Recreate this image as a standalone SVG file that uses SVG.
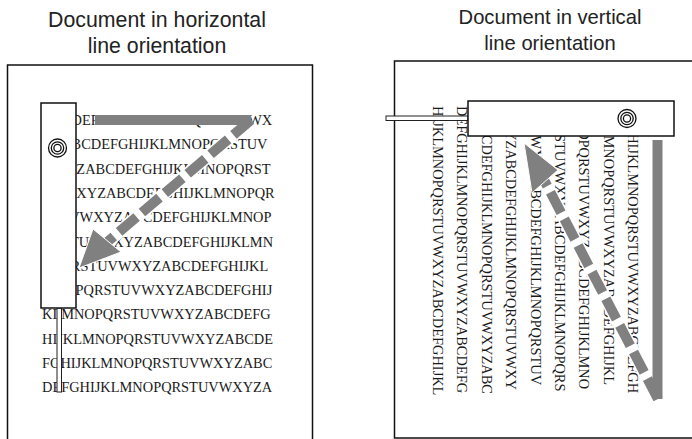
<svg xmlns="http://www.w3.org/2000/svg" width="692" height="439" viewBox="0 0 692 439">
<defs>
<style>
.title{font-family:"Liberation Sans",Arial,sans-serif;fill:#222;text-anchor:middle}
.tl{font-size:21.3px}
.tr{font-size:20.2px}
.doc{font-family:"Liberation Serif","Times New Roman",serif;font-size:14.4px;fill:#1a1a1a}
.page{fill:#fff;stroke:#111;stroke-width:1.5}
.scan{fill:#fff;stroke:#111;stroke-width:1.5}
.rod{fill:#fff;stroke:#222;stroke-width:1}
.ring{fill:none;stroke:#111;stroke-width:1.3}
.bar{fill:none;stroke:#808080;stroke-width:10}
.halo{fill:none;stroke:#fff;stroke-width:13}
.dash{fill:none;stroke:#808080;stroke-width:10;stroke-dasharray:23 7}
.head{fill:#808080;stroke:#fff;stroke-width:1;stroke-linejoin:round}
</style>
</defs>
<rect width="692" height="439" fill="#fff"/>

<g id="title-left">
<text class="title tl" x="157" y="27">Document in horizontal</text>
<text class="title tl" x="157" y="53">line orientation</text>
</g>
<g id="title-right">
<text class="title tr" x="550" y="24">Document in vertical</text>
<text class="title tr" x="550" y="50">line orientation</text>
</g>

<g id="page-horizontal">
<rect class="page" x="7.5" y="65" width="305" height="390"/>
<g class="doc">
<text x="42" y="125">ABCDEFGHIJKLMNOPQRSTUVWX</text>
<text x="42" y="149.3">YZABCDEFGHIJKLMNOPQRSTUV</text>
<text x="42" y="173.6">WXYZABCDEFGHIJKLMNOPQRST</text>
<text x="42" y="197.9">UVWXYZABCDEFGHIJKLMNOPQR</text>
<text x="42" y="222.2">STUVWXYZABCDEFGHIJKLMNOP</text>
<text x="42" y="246.5">QRSTUVWXYZABCDEFGHIJKLMN</text>
<text x="42" y="270.8">OPQRSTUVWXYZABCDEFGHIJKL</text>
<text x="42" y="295.1">MNOPQRSTUVWXYZABCDEFGHIJ</text>
<text x="42" y="319.4">KLMNOPQRSTUVWXYZABCDEFG</text>
<text x="42" y="343.7">HIJKLMNOPQRSTUVWXYZABCDE</text>
<text x="42" y="368">FGHIJKLMNOPQRSTUVWXYZABC</text>
<text x="42" y="392.3">DEFGHIJKLMNOPQRSTUVWXYZA</text>
</g>
</g>

<g id="page-vertical">
<rect class="page" x="394.5" y="61" width="310" height="377"/>
<g class="doc">
<text transform="translate(433,106) rotate(90)">HIJKLMNOPQRSTUVWXYZABCDEFGHIJKL</text>
<text transform="translate(457.4,106) rotate(90)">DEFGHIJKLMNOPQRSTUVWXYZABCDEFG</text>
<text transform="translate(481.8,106) rotate(90)">ZABCDEFGHIJKLMNOPQRSTUVWXYZABC</text>
<text transform="translate(506.2,106) rotate(90)">WXYZABCDEFGHIJKLMNOPQRSTUVWXY</text>
<text transform="translate(530.6,106) rotate(90)">TUVWXYZABCDEFGHIJKLMNOPQRSTUV</text>
<text transform="translate(555,106) rotate(90)">PQRSTUVWXYZABCDEFGHIJKLMNOPQRS</text>
<text transform="translate(579.4,106) rotate(90)">MNOPQRSTUVWXYZABCDEFGHIJKLMNO</text>
<text transform="translate(603.8,106) rotate(90)">IJKLMNOPQRSTUVWXYZABCDEFGHIJKL</text>
<text transform="translate(628.2,106) rotate(90)">EFGHIJKLMNOPQRSTUVWXYZABCDEFGH</text>
</g>
</g>

<g id="connectors">
<g id="scan-path-left">
<path class="halo" d="M251,120 L106,243"/>
<path class="bar" d="M95,120 H251"/>
<path class="dash" d="M251,120 L106,243"/>
<polygon class="head" points="79,268 93,229 121,252"/>
</g>
<g id="scan-path-right">
<path class="halo" d="M658,399 L543,178"/>
<path class="bar" d="M657.5,140 V399"/>
<path class="dash" d="M658,399 L543,178"/>
<polygon class="head" points="524,143 558,170 532,193"/>
</g>
</g>

<g id="scanner-horizontal">
<rect class="rod" x="57" y="308" width="4.5" height="84"/>
<rect class="scan" x="41" y="103" width="35" height="205"/>
<circle class="ring" cx="57.5" cy="148" r="9"/>
<circle class="ring" cx="57.5" cy="148" r="6.2"/>
<circle class="ring" cx="57.5" cy="148" r="3.6"/>
</g>

<g id="scanner-vertical">
<rect class="rod" x="386" y="116" width="82" height="4.5"/>
<rect class="scan" x="468" y="101" width="206" height="35"/>
<circle class="ring" cx="627" cy="118.5" r="9"/>
<circle class="ring" cx="627" cy="118.5" r="6.2"/>
<circle class="ring" cx="627" cy="118.5" r="3.6"/>
</g>
</svg>
